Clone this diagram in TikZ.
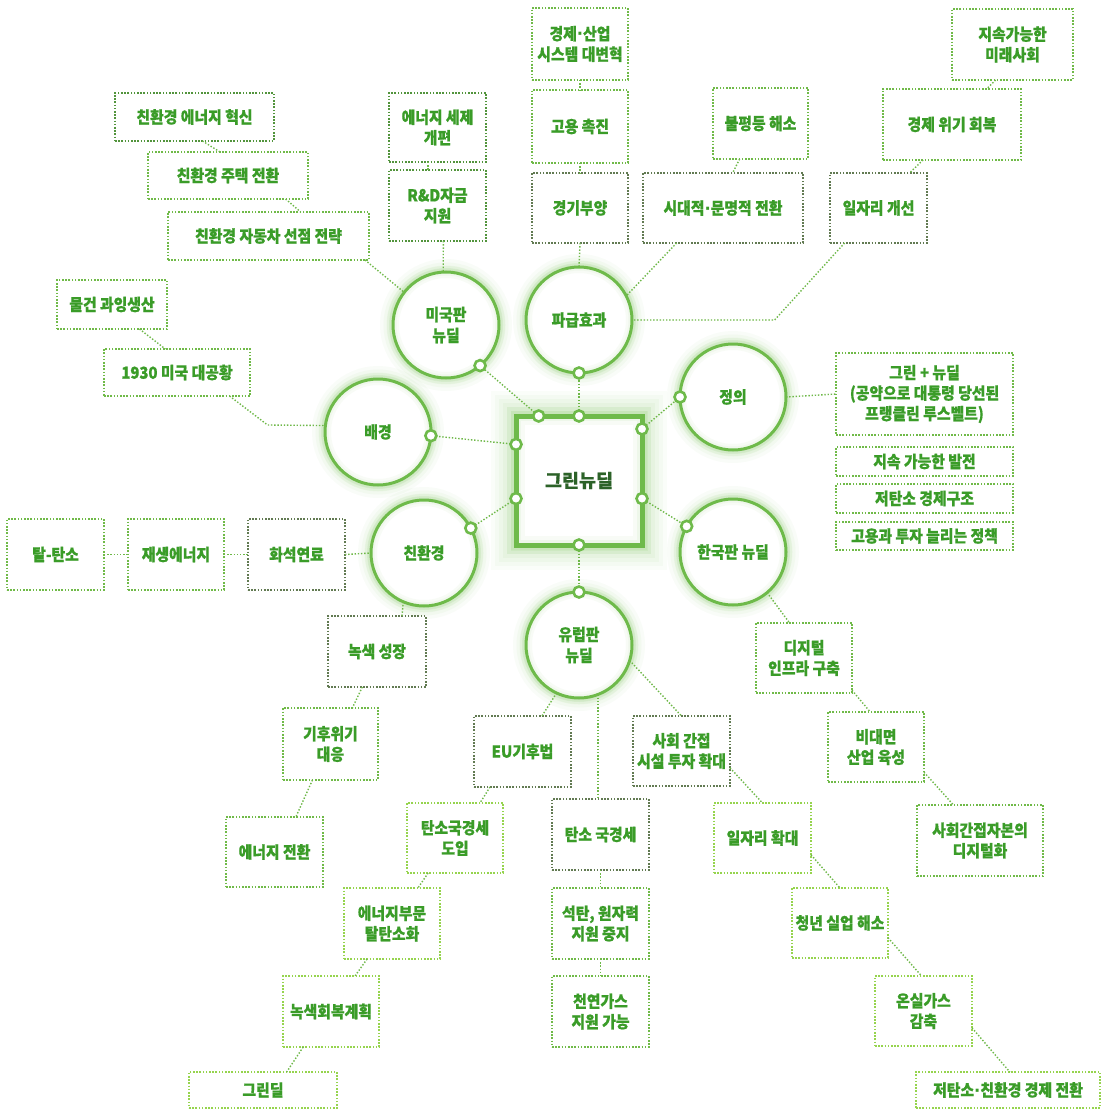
\documentclass[tikz,border=0pt]{standalone}
\usepackage{fontspec}
\setmainfont{Noto Sans CJK KR}
\newfontfamily\lblfont{Noto Sans CJK KR}[FakeStretch=0.9, BoldFeatures={FakeBold=0.7}]
\newfontfamily\ctrfont{Noto Sans CJK KR}[BoldFeatures={FakeBold=0.6}]
\newfontfamily\dotfont{DejaVu Sans}
\newcommand\mdt{{\dotfont\bfseries\char"00B7}}
\usetikzlibrary{calc}
\definecolor{txtg}{RGB}{58,156,40}
\definecolor{ctrt}{RGB}{44,98,40}
\definecolor{bdk}{RGB}{98,122,82}
\definecolor{bmk}{RGB}{82,148,60}
\definecolor{bmd}{RGB}{112,186,72}
\definecolor{blt}{RGB}{150,212,78}
\definecolor{lnc}{RGB}{110,184,72}
\definecolor{ringc}{RGB}{110,186,74}
\definecolor{glw}{RGB}{120,195,85}
\tikzset{
  lbl/.style={font=\lblfont\bfseries\fontsize{16.5}{20.5}\selectfont, text=txtg, align=center},
  gbx/.style={lbl, rectangle, draw, line width=1.6pt, dash pattern=on 1.6pt off 1.6pt,
              inner sep=0pt, outer sep=0pt, fill=white},
  bxdark/.style={gbx, draw=bdk},
  bxmk/.style={gbx, draw=bmk},
  bxmid/.style={gbx, draw=bmd},
  bxlight/.style={gbx, draw=blt},
  circn/.style={lbl, circle, minimum size=106pt, inner sep=0pt, outer sep=0pt,
              draw=ringc, line width=3pt, fill=white,
              font=\lblfont\bfseries\fontsize{16.5}{21}\selectfont,
              preaction={draw=glw, fill=none, line width=26pt, opacity=0.04},
              preaction={draw=glw, fill=none, line width=19pt, opacity=0.05},
              preaction={draw=glw, fill=none, line width=13pt, opacity=0.07},
              preaction={draw=glw, fill=none, line width=8pt, opacity=0.10},
              postaction={draw=glw, fill=none, line width=12pt, opacity=0.05},
              postaction={draw=glw, fill=none, line width=7pt, opacity=0.06}},
  cbox/.style={rectangle, minimum width=126pt, minimum height=129pt, inner sep=0pt, outer sep=0pt,
              draw=ringc, line width=5pt, fill=white, text=ctrt,
              font=\ctrfont\bfseries\fontsize{18.5}{22}\selectfont,
              preaction={draw=glw, fill=none, line width=50pt, opacity=0.03},
              preaction={draw=glw, fill=none, line width=42pt, opacity=0.04},
              preaction={draw=glw, fill=none, line width=34pt, opacity=0.05},
              preaction={draw=glw, fill=none, line width=26pt, opacity=0.06},
              preaction={draw=glw, fill=none, line width=18pt, opacity=0.08},
              preaction={draw=glw, fill=none, line width=11pt, opacity=0.10},
              postaction={draw=glw, fill=none, line width=18pt, opacity=0.05},
              postaction={draw=glw, fill=none, line width=10pt, opacity=0.07}},
  dotn/.style={circle, draw=ringc, line width=2.6pt, fill=white, minimum size=11pt,
              inner sep=0pt, outer sep=0pt},
  lnk/.style={draw=lnc, line width=1.4pt, dash pattern=on 1.4pt off 1.8pt},
}
\newcommand\gbox[7]{\node[#2, minimum width={(#5)-(#3)}, minimum height={(#6)-(#4)}]
  (#1) at ({((#3)+(#5))/2},{((#4)+(#6))/2}) {#7};}
\begin{document}
\begin{tikzpicture}[x=1pt,y=-1pt]
\useasboundingbox[fill=white] (0,0) rectangle (1101,1110);

% ---------- circles and centre ----------
\node[cbox] (cb) at (579,480.5) {그린뉴딜};
\node[circn] (mi) at (446,325) {미국판\\뉴딜};
\node[circn] (pg) at (579,320) {파급효과};
\node[circn] (jo) at (733,397) {정의};
\node[circn] (bg) at (378,432) {배경};
\node[circn] (ch) at (424,553) {친환경};
\node[circn] (hk) at (733,552) {한국판 뉴딜};
\node[circn] (yr) at (579,645) {유럽판\\뉴딜};

% ---------- boxes ----------
\gbox{hy}{bxmk}{115}{93}{274}{141}{친환경 에너지 혁신}
\gbox{jt}{bxmid}{148}{152}{308}{199}{친환경 주택 전환}
\gbox{ja}{bxmid}{168}{212}{369}{260}{친환경 자동차 선점 전략}
\gbox{se}{bxmk}{389}{93}{486}{162}{에너지 세제\\개편}
\gbox{rd}{bxmk}{389}{170}{486}{241}{R\&D자금\\지원}
\gbox{gs}{bxmid}{532}{8}{628}{80}{경제\mdt 산업\\시스템 대변혁}
\gbox{gc}{bxmid}{532}{90}{628}{163}{고용 촉진}
\gbox{gb}{bxdark}{532}{173}{628}{243}{경기부양}
\gbox{bp}{bxmid}{713}{88}{808}{159}{불평등 해소}
\gbox{sd}{bxdark}{643}{173}{803}{243}{시대적\mdt 문명적 전환}
\gbox{mr}{bxmid}{952}{9}{1073}{80}{지속가능한\\미래사회}
\gbox{wg}{bxmid}{883}{89}{1021}{160}{경제 위기 회복}
\gbox{ij}{bxdark}{830}{173}{927}{243}{일자리 개선}
\gbox{mg}{bxmid}{57}{280}{167}{329}{물건 과잉생산}
\gbox{dg}{bxmid}{104}{349}{250}{396}{1930 미국 대공황}
\gbox{tt}{bxmid}{7}{519}{104}{590}{탈-탄소}
\gbox{je}{bxmid}{128}{519}{224}{590}{재생에너지}
\gbox{hs}{bxdark}{248}{519}{345}{590}{화석연료}
\gbox{ns}{bxdark}{328}{616}{426}{687}{녹색 성장}
\gbox{kw}{bxmid}{283}{708}{378}{780}{기후위기\\대응}
\gbox{ej}{bxmid}{226}{817}{323}{887}{에너지 전환}
\gbox{eu}{bxdark}{474}{716}{571}{787}{EU기후법}
\gbox{tg}{bxlight}{407}{803}{503}{873}{탄소국경세\\도입}
\gbox{et}{bxlight}{344}{888}{440}{959}{에너지부문\\탈탄소화}
\gbox{nh}{bxlight}{283}{976}{379}{1047}{녹색회복계획}
\gbox{gd}{bxlight}{189}{1072}{337}{1108}{그린딜}
\gbox{tk}{bxdark}{552}{799}{649}{870}{탄소 국경세}
\gbox{sw}{bxmid}{552}{888}{649}{959}{석탄, 원자력\\지원 중지}
\gbox{cg}{bxmid}{552}{976}{649}{1047}{천연가스\\지원 가능}
\gbox{sh}{bxdark}{633}{716}{730}{786}{사회 간접\\시설 투자 확대}
\gbox{ih}{bxlight}{714}{803}{811}{873}{일자리 확대}
\gbox{cn}{bxlight}{792}{888}{888}{958}{청년 실업 해소}
\gbox{os}{bxlight}{875}{976}{972}{1046}{온실가스\\감축}
\gbox{jc}{bxlight}{916}{1072}{1100}{1108}{저탄소\mdt 친환경 경제 전환}
\gbox{di}{bxmid}{756}{623}{852}{693}{디지털\\인프라 구축}
\gbox{bd}{bxmid}{828}{712}{924}{782}{비대면\\산업 육성}
\gbox{sg}{bxmid}{917}{805}{1043}{876}{사회간접자본의\\디지털화}
\gbox{gn}{bxmid}{836}{353}{1013}{435}{그린 + 뉴딜\\(공약으로 대통령 당선된\\프랭클린 루스벨트)}
\gbox{jg}{bxmid}{836}{447}{1013}{476}{지속 가능한 발전}
\gbox{jk}{bxmid}{836}{484}{1013}{513}{저탄소 경제구조}
\gbox{gt}{bxmid}{836}{522}{1013}{550}{고용과 투자 늘리는 정책}

% ---------- connectors between boxes and circles ----------
\draw[lnk] ($(hy.south west)!0.55!(hy.south east)$) -- ($(jt.north west)!0.45!(jt.north east)$);
\draw[lnk] ($(jt.south west)!0.86!(jt.south east)$) -- ($(ja.north west)!0.66!(ja.north east)$);
\draw[lnk] ($(ja.south west)!0.98!(ja.south east)$) -- (mi.142);
\draw[lnk] ($(se.south west)!0.40!(se.south east)$) -- ($(rd.north west)!0.40!(rd.north east)$);
\draw[lnk] ($(rd.south west)!0.56!(rd.south east)$) -- (mi.93);
\draw[lnk] (gs.south) -- (gc.north);
\draw[lnk] (gc.south) -- (gb.north);
\draw[lnk] (gb.south) -- (pg.north);
\draw[lnk] ($(bp.south west)!0.28!(bp.south east)$) -- ($(sd.north west)!0.56!(sd.north east)$);
\draw[lnk] ($(sd.south west)!0.21!(sd.south east)$) -- (pg.27);
\draw[lnk] ($(mr.south west)!0.36!(mr.south east)$) -- ($(wg.north west)!0.75!(wg.north east)$);
\draw[lnk] ($(wg.south west)!0.29!(wg.south east)$) -- ($(ij.north west)!0.82!(ij.north east)$);
\draw[lnk] ($(ij.south west)!0.15!(ij.south east)$) -- ++(-70,77) -- (pg.east);
\draw[lnk] ($(mg.south west)!0.75!(mg.south east)$) -- ($(dg.north west)!0.42!(dg.north east)$);
\draw[lnk] ($(dg.south west)!0.86!(dg.south east)$) -- ++(38,29) -- (bg.173);
\draw[lnk] (tt.east) -- (je.west);
\draw[lnk] (je.east) -- (hs.west);
\draw[lnk] (hs.east) -- (ch.west);
\draw[lnk] (ch.-113) -- ($(ns.north west)!0.755!(ns.north east)$);
\draw[lnk] ($(ns.south west)!0.35!(ns.south east)$) -- ($(kw.north west)!0.73!(kw.north east)$);
\draw[lnk] ($(kw.south west)!0.31!(kw.south east)$) -- ($(ej.north west)!0.72!(ej.north east)$);
\draw[lnk] (yr.-115) -- ($(eu.north west)!0.70!(eu.north east)$);
\draw[lnk] (yr.-17) -- (sh.north);
\draw[lnk] (yr.-69) -- (yr.-69 |- tk.north);
\draw[lnk] (tk.south) -- (sw.north);
\draw[lnk] (sw.south) -- (cg.north);
\draw[lnk] ($(eu.south west)!0.165!(eu.south east)$) -- ($(tg.north west)!0.76!(tg.north east)$);
\draw[lnk] ($(tg.south west)!0.22!(tg.south east)$) -- ($(et.north west)!0.77!(et.north east)$);
\draw[lnk] ($(et.south west)!0.24!(et.south east)$) -- ($(nh.north west)!0.75!(nh.north east)$);
\draw[lnk] ($(nh.south west)!0.21!(nh.south east)$) -- ($(gd.north west)!0.66!(gd.north east)$);
\draw[lnk] ($(sh.north east)!0.74!(sh.south east)$) -- (ih.north);
\draw[lnk] ($(ih.north east)!0.74!(ih.south east)$) -- (cn.north);
\draw[lnk] ($(cn.north east)!0.71!(cn.south east)$) -- ($(os.north west)!0.48!(os.north east)$);
\draw[lnk] ($(os.north east)!0.74!(os.south east)$) -- ($(jc.north west)!0.51!(jc.north east)$);
\draw[lnk] (hk.-50) -- ($(di.north west)!0.35!(di.north east)$);
\draw[lnk] ($(di.north east)!0.96!(di.south east)$) -- ($(bd.north west)!0.44!(bd.north east)$);
\draw[lnk] ($(bd.north east)!0.86!(bd.south east)$) -- ($(sg.north west)!0.29!(sg.north east)$);
\draw[lnk] (jo.east) -- (gn.west);

% ---------- connection dots ----------
\node[dotn] (b1) at ($(cb.north west)!0.18!(cb.north east)$) {};
\node[dotn] (b2) at (cb.north) {};
\node[dotn] (b3) at ($(cb.north east)!0.10!(cb.south east)$) {};
\node[dotn] (b4) at ($(cb.north west)!0.22!(cb.south west)$) {};
\node[dotn] (b5) at ($(cb.north west)!0.64!(cb.south west)$) {};
\node[dotn] (b6) at ($(cb.north east)!0.64!(cb.south east)$) {};
\node[dotn] (b7) at (cb.south) {};
\node[dotn] (m1) at (mi.-50) {};
\node[dotn] (m2) at (pg.-90) {};
\node[dotn] (m3) at (jo.180) {};
\node[dotn] (m4) at (bg.-4) {};
\node[dotn] (m5) at (ch.28) {};
\node[dotn] (m6) at (hk.151) {};
\node[dotn] (m7) at (yr.90) {};
\draw[lnk] (b1) -- (m1);
\draw[lnk] (b2) -- (m2);
\draw[lnk] (b3) -- (m3);
\draw[lnk] (b4) -- (m4);
\draw[lnk] (b5) -- (m5);
\draw[lnk] (b6) -- (m6);
\draw[lnk] (b7) -- (m7);
\end{tikzpicture}
\end{document}
